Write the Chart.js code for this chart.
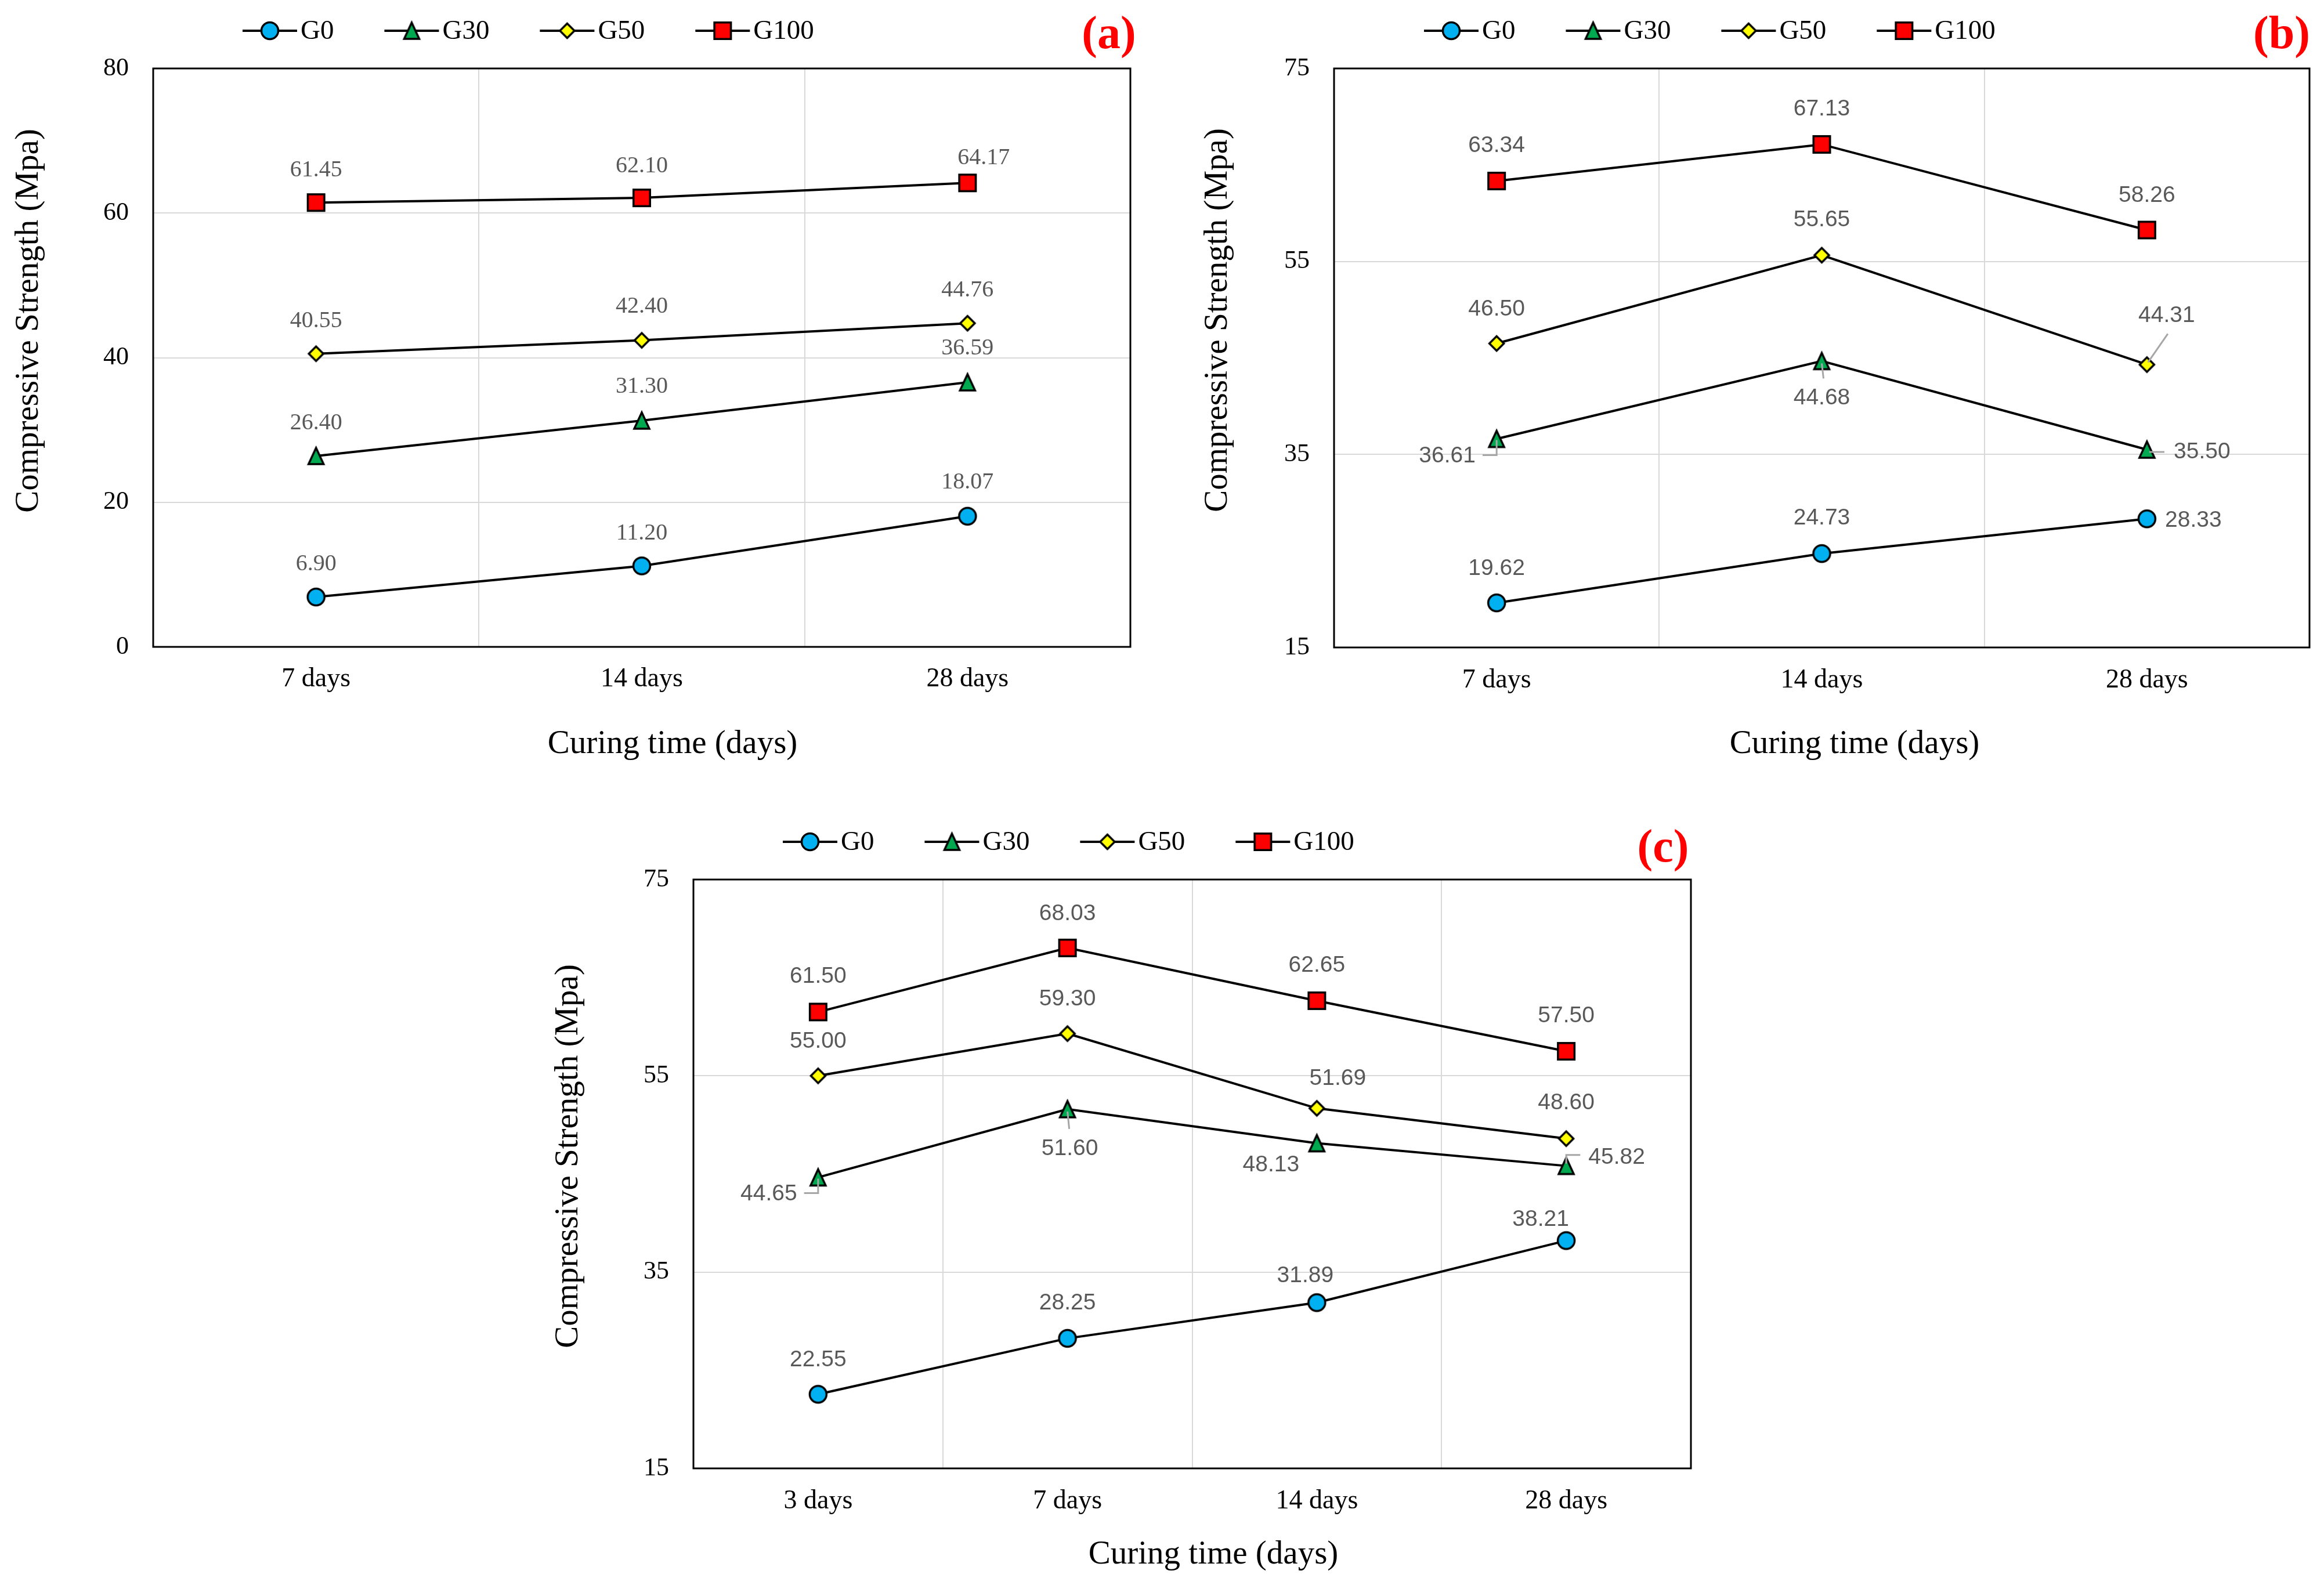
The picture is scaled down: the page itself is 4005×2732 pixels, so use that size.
<!DOCTYPE html>
<html><head><meta charset="utf-8">
<script src="https://cdn.jsdelivr.net/npm/chart.js@4.4.1/dist/chart.umd.min.js"></script>
<style>
html,body{margin:0;padding:0;background:#fff;}
body{width:4005px;height:2732px;position:relative;overflow:hidden;}
canvas{position:absolute;}
</style></head><body>
<canvas id="ca" width="2000" height="1350" style="left:0px;top:0px;width:2000px;height:1350px"></canvas>
<canvas id="cb" width="2005" height="1350" style="left:2000px;top:0px;width:2005px;height:1350px"></canvas>
<canvas id="cc" width="2100" height="1382" style="left:900px;top:1350px;width:2100px;height:1382px"></canvas>
<script>
// ---------- DATA ----------
const seriesNames = ['G0', 'G30', 'G50', 'G100'];
const xAxisTitle = 'Curing time (days)';
const yAxisTitle = 'Compressive Strength (Mpa)';

const catsA = ['7 days', '14 days', '28 days'];
const g0A = [6.90, 11.20, 18.07];
const g30A = [26.40, 31.30, 36.59];
const g50A = [40.55, 42.40, 44.76];
const g100A = [61.45, 62.10, 64.17];
const yTicksA = [0, 20, 40, 60, 80];

const catsB = ['7 days', '14 days', '28 days'];
const g0B = [19.62, 24.73, 28.33];
const g30B = [36.61, 44.68, 35.50];
const g50B = [46.50, 55.65, 44.31];
const g100B = [63.34, 67.13, 58.26];
const yTicksB = [15, 35, 55, 75];

const catsC = ['3 days', '7 days', '14 days', '28 days'];
const g0C = [22.55, 28.25, 31.89, 38.21];
const g30C = [44.65, 51.60, 48.13, 45.82];
const g50C = [55.00, 59.30, 51.69, 48.60];
const g100C = [61.50, 68.03, 62.65, 57.50];
const yTicksC = [15, 35, 55, 75];

// ---------- STYLE / LAYOUT ----------
const SERIF = "'Liberation Serif','Times New Roman',serif";
const SANS = "'Liberation Sans',Arial,sans-serif";

// data-label offsets (px, relative to point) and leader type
const offsA = [
  [[0,-57],[0,-56],[0,-58]],
  [[0,-56],[0,-58],[0,-58]],
  [[0,-56],[0,-58],[0,-57]],
  [[0,-56],[0,-55],[28,-43]]
];
const offsB = [
  [[0,-59],[0,-61],[80,3]],
  [[-85,30,'L'],[0,64,'V'],[95,4,'H']],
  [[0,-59],[0,-61],[34,-84,'D']],
  [[0,-61],[0,-61],[0,-59]]
];
const offsC = [
  [[0,-59],[0,-61],[-20,-46],[-44,-36]],
  [[-85,29,'L'],[4,68,'V'],[-79,38],[87,-14,'R']],
  [[0,-59],[0,-59],[36,-51],[0,-61]],
  [[0,-61],[0,-59],[0,-61],[0,-61]]
];

function makeMarker(kind){
  const c = document.createElement('canvas'); c.width = 40; c.height = 40;
  const g = c.getContext('2d'); g.lineWidth = 3.5; g.strokeStyle = '#000';
  g.beginPath();
  if (kind === 'circle') { g.arc(20,20,14.5,0,Math.PI*2); g.fillStyle = '#00B0F0'; }
  else if (kind === 'triangle') { g.moveTo(20,6); g.lineTo(33,34); g.lineTo(7,34); g.closePath(); g.fillStyle = '#00A84F'; }
  else if (kind === 'diamond') { g.moveTo(20,7.5); g.lineTo(32.5,20); g.lineTo(20,32.5); g.lineTo(7.5,20); g.closePath(); g.fillStyle = '#FFFF00'; }
  else { g.rect(5.75,5.75,28.5,28.5); g.fillStyle = '#FF0000'; }
  g.fill(); g.stroke();
  return c;
}
const markers = [makeMarker('circle'), makeMarker('triangle'), makeMarker('diamond'), makeMarker('square')];

function drawLeader(ctx, type, p, cx, cy, w, h){
  ctx.save();
  ctx.strokeStyle = '#a6a6a6'; ctx.lineWidth = 3; ctx.beginPath();
  if (type === 'L') { ctx.moveTo(cx + w/2 + 12, cy - 2); ctx.lineTo(p.x, cy - 2); ctx.lineTo(p.x, p.y + 2); }
  else if (type === 'V') { ctx.moveTo(p.x, p.y + 4); ctx.lineTo(p.x + 3, cy - h/2 - 20); }
  else if (type === 'H') { ctx.moveTo(p.x + 4, cy); ctx.lineTo(cx - w/2 - 16, cy); }
  else if (type === 'D') { ctx.moveTo(cx + 2, cy + 31); ctx.lineTo(p.x + 2, p.y - 4); }
  else if (type === 'R') { ctx.moveTo(cx - w/2 - 14, cy - 5); ctx.lineTo(p.x, cy - 5); ctx.lineTo(p.x, p.y - 4); }
  ctx.stroke(); ctx.restore();
}

const deco = {
  id: 'panelDeco',
  afterDraw(chart, args, o){
    const ctx = chart.ctx, a = chart.chartArea;
    ctx.save();
    // plot frame
    ctx.strokeStyle = '#000'; ctx.lineWidth = 3;
    ctx.strokeRect(a.left, a.top, a.right - a.left, a.bottom - a.top);
    // leaders and data labels
    ctx.font = o.labelFont;
    chart.data.datasets.forEach((ds, i) => {
      const meta = chart.getDatasetMeta(i);
      meta.data.forEach((pt, j) => {
        const off = o.offsets[i][j];
        const txt = ds.data[j].toFixed(2);
        const w = ctx.measureText(txt).width;
        const cx = pt.x + off[0], cy = pt.y + off[1];
        if (off[2]) drawLeader(ctx, off[2], pt, cx, cy, w, 28);
        ctx.fillStyle = '#595959'; ctx.textAlign = 'center'; ctx.textBaseline = 'middle';
        ctx.fillText(txt, cx, cy);
      });
    });
    // legend
    let x = o.legend[0]; const y = o.legend[1];
    ctx.font = '47px ' + SERIF;
    chart.data.datasets.forEach((ds, i) => {
      ctx.strokeStyle = '#000'; ctx.lineWidth = 4;
      ctx.beginPath(); ctx.moveTo(x, y); ctx.lineTo(x + 94, y); ctx.stroke();
      const img = markers[i];
      ctx.drawImage(img, x + 47 - img.width/2, y - img.height/2);
      ctx.fillStyle = '#000'; ctx.textAlign = 'left'; ctx.textBaseline = 'middle';
      ctx.fillText(ds.label, x + 100, y + 2);
      x += 100 + ctx.measureText(ds.label).width + 87;
    });
    // axis titles
    ctx.font = '57px ' + SERIF; ctx.fillStyle = '#000'; ctx.textAlign = 'center'; ctx.textBaseline = 'middle';
    ctx.fillText(xAxisTitle, o.xTitle[0], o.xTitle[1]);
    ctx.save(); ctx.translate(o.yTitle[0], o.yTitle[1]); ctx.rotate(-Math.PI/2);
    ctx.fillText(yAxisTitle, 0, 0); ctx.restore();
    // panel letter
    ctx.font = 'bold 80px ' + SERIF; ctx.fillStyle = '#FF0000';
    ctx.fillText(o.letter, o.letterPos[0], o.letterPos[1]);
    ctx.restore();
  }
};

function buildChart(id, cats, seriesData, yTicks, geo, decoOpts){
  const W = geo.W, H = geo.H;
  const datasets = seriesData.map((d, i) => ({
    label: seriesNames[i],
    data: d,
    borderColor: '#000',
    borderWidth: 4,
    pointStyle: markers[i],
    pointRadius: 16,
    pointHoverRadius: 16,
    tension: 0,
    fill: false,
    clip: false
  }));
  return new Chart(document.getElementById(id), {
    type: 'line',
    data: { labels: cats, datasets },
    options: {
      responsive: false,
      animation: false,
      devicePixelRatio: 1,
      events: [],
      layout: { padding: { left: 0, top: geo.T, right: W - geo.R, bottom: 0 } },
      plugins: { legend: { display: false }, tooltip: { enabled: false }, panelDeco: decoOpts },
      scales: {
        x: {
          type: 'category',
          offset: true,
          grid: { offset: true, color: '#d9d9d9', lineWidth: 2, drawTicks: false },
          border: { display: false },
          ticks: { color: '#000', font: { family: SERIF, size: 46 }, padding: geo.xPad, maxRotation: 0 },
          afterFit: s => { s.height = H - geo.B; }
        },
        y: {
          min: yTicks[0],
          max: yTicks[yTicks.length - 1],
          afterBuildTicks: s => { s.ticks = yTicks.map(v => ({ value: v })); },
          grid: { color: '#d9d9d9', lineWidth: 2, drawTicks: false },
          border: { display: false },
          ticks: { color: '#000', font: { family: SERIF, size: 44 }, padding: 42 },
          afterFit: s => { s.width = geo.L; }
        }
      }
    },
    plugins: [deco]
  });
}

buildChart('ca', catsA, [g0A, g30A, g50A, g100A], yTicksA,
  { W: 2000, H: 1350, L: 264, T: 118, R: 1948, B: 1115, xPad: 28 },
  { labelFont: '40px ' + SERIF, offsets: offsA, legend: [418, 53], xTitle: [1159, 1283], yTitle: [50, 553], letter: '(a)', letterPos: [1911, 62] });

buildChart('cb', catsB, [g0B, g30B, g50B, g100B], yTicksB,
  { W: 2005, H: 1350, L: 299, T: 118, R: 1980, B: 1116, xPad: 29 },
  { labelFont: '39px ' + SANS, offsets: offsB, legend: [454, 53], xTitle: [1196, 1283], yTitle: [99, 552], letter: '(b)', letterPos: [1932, 62] });

buildChart('cc', catsC, [g0C, g30C, g50C, g100C], yTicksC,
  { W: 2100, H: 1382, L: 295, T: 166, R: 2014, B: 1181, xPad: 29 },
  { labelFont: '39px ' + SANS, offsets: offsC, legend: [449, 101], xTitle: [1191, 1330], yTitle: [80, 643], letter: '(c)', letterPos: [1966, 114] });
</script>
</body></html>
